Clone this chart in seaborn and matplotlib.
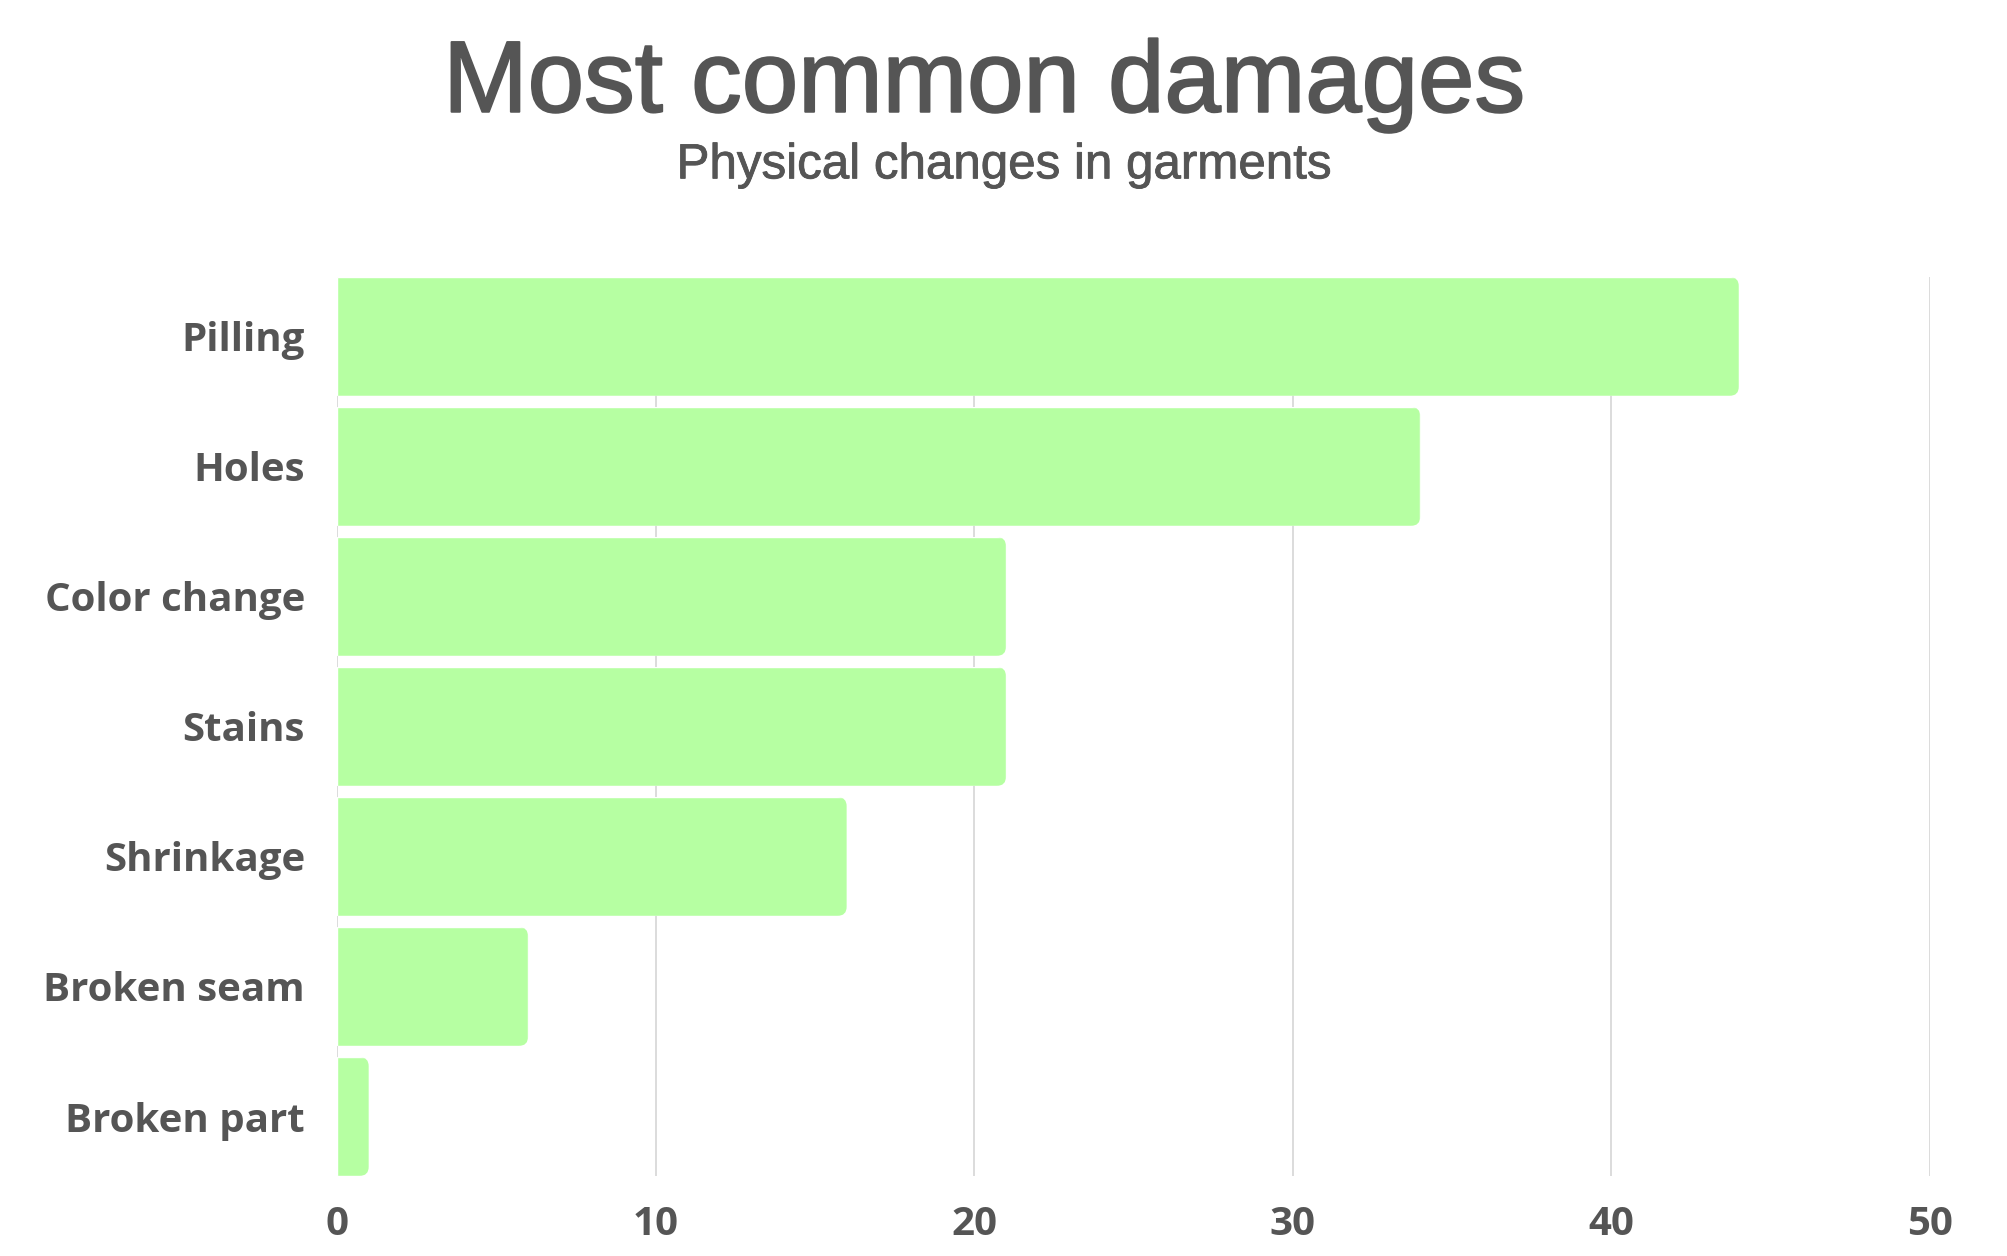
import pandas as pd
import matplotlib.pyplot as plt
import matplotlib.patheffects as pe
from matplotlib.patches import FancyBboxPatch
import seaborn as sns

# data
damages = ['Pilling', 'Holes', 'Color change', 'Stains', 'Shrinkage', 'Broken seam', 'Broken part']
counts = [44, 34, 21, 21, 16, 6, 1]
x_ticks = [0, 10, 20, 30, 40, 50]

TEXT = '#555555'
BAR = '#B6FFA2'

df = pd.DataFrame({'damage': damages, 'count': counts})

sns.set_style('white')
plt.rcParams['font.family'] = ['Open Sans', 'DejaVu Sans']

fig = plt.figure(figsize=(20.08, 12.56), dpi=100)
ax = fig.add_axes([0.1678, 0.0637, 0.7934, 0.7158])

sns.barplot(data=df, x='count', y='damage', color=BAR, width=0.915,
            saturation=1, ax=ax, zorder=2)

# round the right-hand corners of every bar
for p in ax.patches:
    clip = FancyBboxPatch((p.get_x() - 1, p.get_y()), p.get_width() + 1, p.get_height(),
                          boxstyle='round,pad=0,rounding_size=0.3',
                          mutation_aspect=0.245, transform=ax.transData)
    p.set_clip_path(clip)

ax.set_xlim(0, 50)
ax.set_ylim(len(damages) - 1 + 0.4575, -0.4575)
ax.set_xticks(x_ticks)
ax.set_xticklabels([str(t) for t in x_ticks])
ax.set_xlabel('')
ax.set_ylabel('')

ax.grid(axis='x', color='#dcdcdc', linewidth=1.4)
ax.grid(axis='y', visible=False)
ax.set_axisbelow(True)
for s in ax.spines.values():
    s.set_visible(False)

ax.tick_params(axis='y', length=0, pad=23, labelsize=29, labelcolor=TEXT)
ax.tick_params(axis='x', length=0, pad=21, labelsize=29, labelcolor=TEXT)
for lbl in ax.get_xticklabels() + ax.get_yticklabels():
    lbl.set_fontweight('bold')

fig.text(0.49, 0.911, 'Most common damages', ha='center', va='baseline',
         fontsize=73, color=TEXT, family=['Liberation Sans', 'DejaVu Sans'],
         path_effects=[pe.withStroke(linewidth=1.4, foreground=TEXT)])
fig.text(0.5, 0.858, 'Physical changes in garments', ha='center', va='baseline',
         fontsize=35.5, color=TEXT, family=['Liberation Sans', 'DejaVu Sans'],
         path_effects=[pe.withStroke(linewidth=0.6, foreground=TEXT)])

fig.savefig('out.png', dpi=100, facecolor='white')
